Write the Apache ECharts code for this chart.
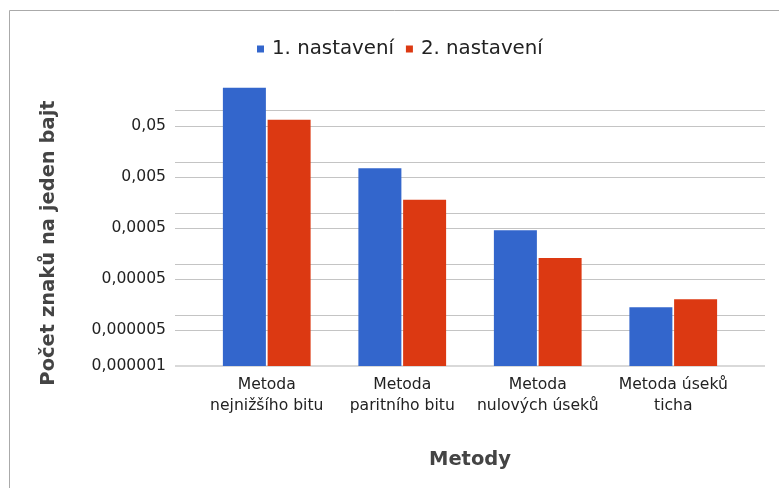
<!DOCTYPE html>
<html>
<head>
<meta charset="utf-8">
<script src="https://cdn.jsdelivr.net/npm/echarts@6/dist/echarts.min.js"></script>
<style>
  html, body { margin: 0; padding: 0; background: #fff; }
  #main { width: 779px; height: 488px; }
</style>
</head>
<body>
<div id="main"></div>
<script>
var categories = ['Metoda\nnejnižšího bitu', 'Metoda\nparitního bitu', 'Metoda\nnulových úseků', 'Metoda úseků\nticha'];
var setting1 = [0.282, 0.00745, 0.000455, 0.0000141];
var setting2 = [0.0667, 0.00181, 0.000130, 0.0000202];
var seriesNames = ['1. nastavení', '2. nastavení'];

// gridlines (log axis), the first one is the base line
var gridValues = [0.000001, 0.000005, 0.00001, 0.00005, 0.0001, 0.0005, 0.001, 0.005, 0.01, 0.05, 0.1];
var tickValues = [0.000001, 0.000005, 0.00005, 0.0005, 0.005, 0.05];
var tickLabels = ['0,000001', '0,000005', '0,00005', '0,0005', '0,005', '0,05'];

var yMin = 0.000001, yMax = 0.5;
var font = 'DejaVu Sans';

var lineData = gridValues.map(function (v) {
    var item = { yAxis: v };
    var k = tickValues.indexOf(v);
    if (k >= 0) {
        item.label = { show: true, position: 'start', distance: 9, formatter: tickLabels[k] };
    }
    if (v === yMin) {
        item.lineStyle = { color: '#d9d9d9', width: 2 };
    }
    return item;
});

var myChart = echarts.init(document.getElementById('main'));
var option = {
    animation: false,
    backgroundColor: '#fff',
    textStyle: { fontFamily: font },
    graphic: [
        {
            type: 'rect', silent: true,
            shape: { x: 9.5, y: 10.5, width: 800, height: 500 },
            style: { fill: 'none', stroke: '#aaa', lineWidth: 1 }
        },
        {
            type: 'text', x: 49, y: 243, rotation: Math.PI / 2,
            style: {
                text: 'Počet znaků na jeden bajt', fill: '#444',
                font: 'bold 19.5px "DejaVu Sans"', align: 'center', verticalAlign: 'middle'
            }
        }
    ],
    legend: {
        data: seriesNames,
        left: 257, top: 39, padding: 0,
        icon: 'rect', itemWidth: 7, itemHeight: 7, itemGap: 12,
        textStyle: { fontFamily: font, fontSize: 19.8, color: '#222', padding: [0, 0, 0, 3] }
    },
    grid: [
        { left: 175, right: 14, top: 75, bottom: 122 },
        { left: 199, right: 38, top: 75, bottom: 122 }
    ],
    xAxis: [
        { gridIndex: 0, type: 'value', min: 0, max: 1, show: false },
        {
            gridIndex: 1, type: 'category', data: categories,
            axisLine: { show: false }, axisTick: { show: false },
            axisLabel: { interval: 0, fontFamily: font, fontSize: 15.6, lineHeight: 20.5, color: '#222', margin: 9 },
            name: 'Metody', nameLocation: 'middle', nameGap: 84,
            nameTextStyle: { fontFamily: font, fontSize: 19.5, fontWeight: 'bold', color: '#444' }
        }
    ],
    yAxis: [
        { gridIndex: 0, type: 'log', min: yMin, max: yMax, show: false },
        { gridIndex: 1, type: 'log', min: yMin, max: yMax, startValue: yMin, show: false }
    ],
    series: [
        {
            type: 'line', xAxisIndex: 0, yAxisIndex: 0, data: [], silent: true, z: 0,
            markLine: {
                silent: true, symbol: 'none', animation: false, precision: 10, z: 0,
                lineStyle: { color: '#c4c4c4', width: 1, type: 'solid' },
                label: { show: false, fontFamily: font, fontSize: 15.6, color: '#222' },
                emphasis: { disabled: true },
                data: lineData
            }
        },
        {
            name: seriesNames[0], type: 'bar', xAxisIndex: 1, yAxisIndex: 1, z: 3,
            data: setting1, barWidth: 43, barGap: '4%',
            itemStyle: { color: '#3366cc' }
        },
        {
            name: seriesNames[1], type: 'bar', xAxisIndex: 1, yAxisIndex: 1, z: 3,
            data: setting2, barWidth: 43, barGap: '4%',
            itemStyle: { color: '#dc3912' }
        }
    ]
};
myChart.setOption(option);
</script>
</body>
</html>
